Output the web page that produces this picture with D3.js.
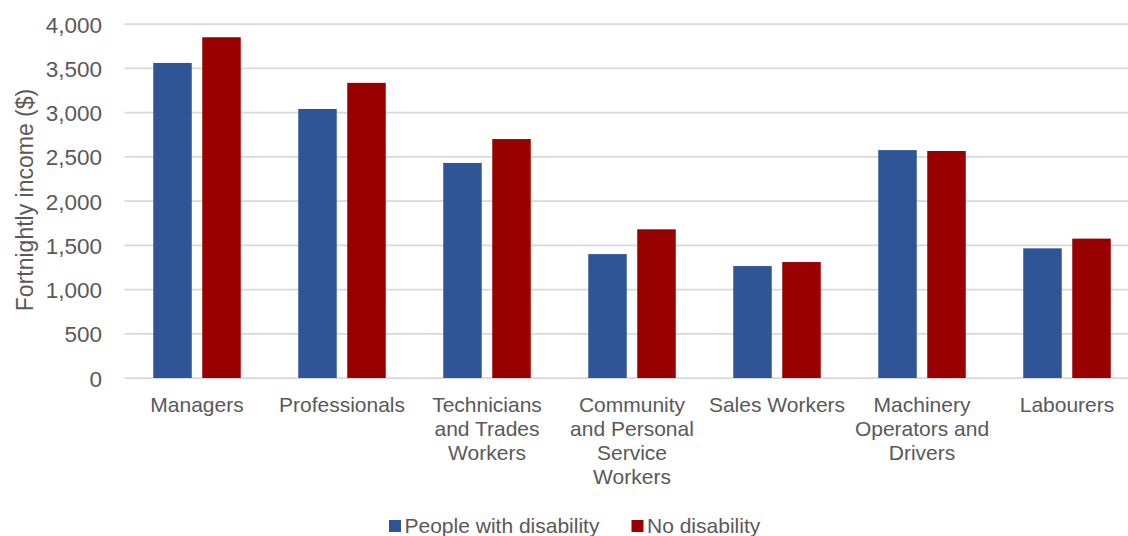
<!DOCTYPE html>
<html>
<head>
<meta charset="utf-8">
<script src="https://cdn.jsdelivr.net/npm/d3@7"></script>
<style>
  html, body { margin: 0; padding: 0; background: #fff; }
  svg { display: block; font-family: "Liberation Sans", Arial, sans-serif; }
</style>
</head>
<body>
<svg id="chart" width="1128" height="536"></svg>
<script>
// Occupation groups (line breaks mark how the axis labels wrap)
const categories = [
  "Managers",
  "Professionals",
  "Technicians\nand Trades\nWorkers",
  "Community\nand Personal\nService\nWorkers",
  "Sales Workers",
  "Machinery\nOperators and\nDrivers",
  "Labourers"
];
const seriesNames = ["People with disability", "No disability"];
const withDisability = [3560, 3040, 2430, 1400, 1265, 2575, 1465];
const noDisability   = [3850, 3335, 2700, 1680, 1310, 2565, 1575];
const yTicks = [0, 500, 1000, 1500, 2000, 2500, 3000, 3500, 4000];
const yTitle = "Fortnightly income ($)";

const colors = ["#2F5597", "#990000"];
const textColor = "#595959";

const svg = d3.select("#chart");
const plot = { left: 124.5, right: 1139.5, top: 24, bottom: 378 };

const x = d3.scaleBand()
  .domain(categories)
  .range([plot.left, plot.right])
  .paddingInner(0)
  .paddingOuter(0);

const y = d3.scaleLinear()
  .domain([0, 4000])
  .range([plot.bottom, plot.top]);

// Gridlines
svg.append("g")
  .selectAll("line")
  .data(yTicks)
  .join("line")
  .attr("x1", plot.left)
  .attr("x2", plot.right)
  .attr("y1", d => y(d))
  .attr("y2", d => y(d))
  .attr("stroke", "#d9d9d9")
  .attr("stroke-width", 1.75);

// Y axis labels
const yAxis = d3.axisLeft(y)
  .tickValues(yTicks)
  .tickFormat(d3.format(","))
  .tickSize(0)
  .tickPadding(0);
const yg = svg.append("g")
  .attr("transform", `translate(${102},0)`)
  .call(yAxis);
yg.select(".domain").remove();
yg.selectAll("text")
  .attr("fill", textColor)
  .attr("font-size", 22.5)
  .attr("font-family", "Liberation Sans, Arial, sans-serif")
  .attr("dy", "0.36em");

// Y axis title
svg.append("text")
  .attr("transform", `translate(32.5,${(plot.top + plot.bottom) / 2 - 1}) rotate(-90)`)
  .attr("text-anchor", "middle")
  .attr("fill", textColor)
  .attr("font-size", 23)
  .text(yTitle);

// Bars
const barW = 38.5, gap = 10.5;
const series = [withDisability, noDisability];
series.forEach((vals, si) => {
  svg.append("g")
    .selectAll("rect")
    .data(categories.map((c, i) => ({ c, v: vals[i] })))
    .join("rect")
    .attr("x", d => {
      const cx = x(d.c) + x.bandwidth() / 2;
      return si === 0 ? cx - gap / 2 - barW : cx + gap / 2;
    })
    .attr("y", d => y(d.v))
    .attr("width", barW)
    .attr("height", d => y(0) - y(d.v))
    .attr("fill", colors[si]);
});

// Category labels
const xl = svg.append("g");
categories.forEach(c => {
  const t = xl.append("text")
    .attr("x", x(c) + x.bandwidth() / 2)
    .attr("y", 411.5)
    .attr("text-anchor", "middle")
    .attr("fill", textColor)
    .attr("font-size", 21);
  c.split("\n").forEach((line, i) => {
    t.append("tspan")
      .attr("x", x(c) + x.bandwidth() / 2)
      .attr("dy", i === 0 ? 0 : 24)
      .text(line);
  });
});

// Legend
const legendItems = [
  { name: seriesNames[0], color: colors[0], x: 389 },
  { name: seriesNames[1], color: colors[1], x: 631.5 }
];
const lg = svg.append("g");
legendItems.forEach(it => {
  lg.append("rect")
    .attr("x", it.x)
    .attr("y", 520)
    .attr("width", 12)
    .attr("height", 12)
    .attr("fill", it.color);
  lg.append("text")
    .attr("x", it.x + 15.5)
    .attr("y", 533)
    .attr("fill", textColor)
    .attr("font-size", 21)
    .text(it.name);
});
</script>
</body>
</html>
